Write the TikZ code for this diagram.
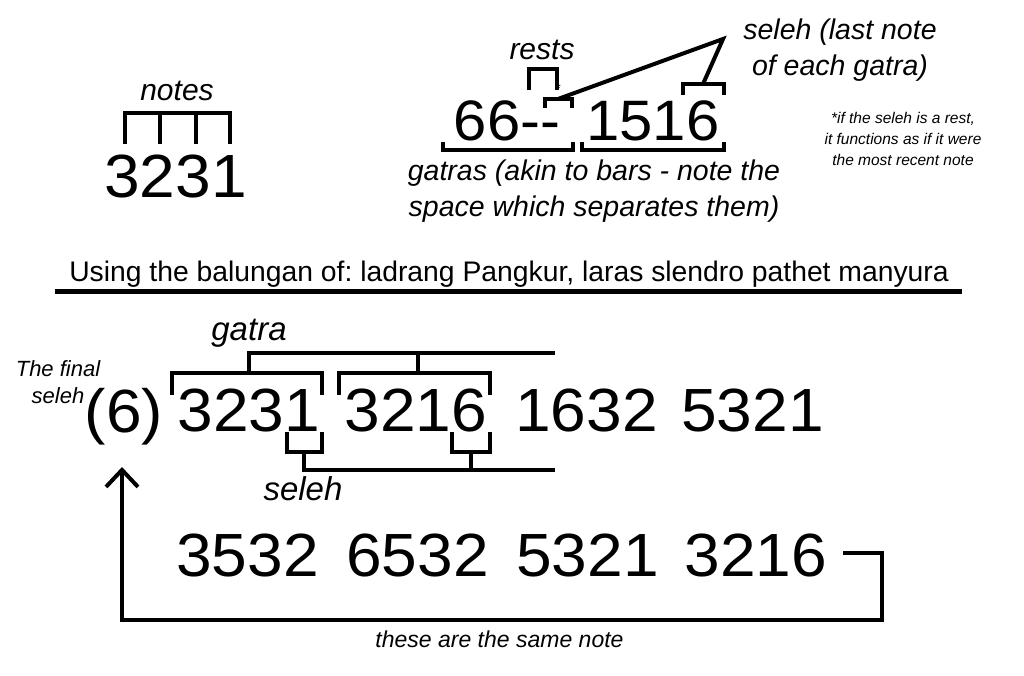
\documentclass[tikz,border=0pt]{standalone}
\usepackage{fontspec}
\setmainfont{Liberation Sans}
\newfontfamily\digitfont[FakeStretch=1.05]{Liberation Sans}
\usetikzlibrary{positioning}
\usetikzlibrary{arrows.meta}
\frenchspacing

\tikzset{
  brk/.style={line width=4pt, line join=miter},
  digits/.style={font=\digitfont\fontsize{61}{61}\selectfont, inner sep=0pt},
  tag/.style={font=\itshape\fontsize{28.5}{36}\selectfont, inner sep=0pt, align=center},
}

\begin{document}
\begin{tikzpicture}[x=1pt,y=-1pt]
            \useasboundingbox (0,0) rectangle (1024,676);

            % top left: notes
            \node[digits, font=\digitfont\fontsize{61}{61}\selectfont] (notesnum) at (175.5,176.5) {3231};
            \node[tag, font=\itshape\fontsize{30}{30}\selectfont, anchor=base] (notes) at (177,101) {notes};
            \draw[brk] (125,144) -- (125,113) -- (230,113) -- (230,144);
            \foreach \x in {160,196} \draw[brk] (\x,113) -- (\x,144);

            % top middle: gatras, rests and seleh
            \node[digits, font=\digitfont\fontsize{57}{57}\selectfont] (gatraA) at (507,120.5) {66-{}-};
            \node[digits, font=\digitfont\fontsize{57}{57}\selectfont] (gatraB) at (653,120.5) {1516};
            \node[tag, font=\itshape\fontsize{30}{30}\selectfont, anchor=base] (rests) at (542,60) {rests};
            \node[font=\fontsize{14}{14}\selectfont, inner sep=0pt] (star) at (558,89) {*};
            \node[tag] (selehtop) at (840,50) {seleh (last note\\of each gatra)};
            \node[tag] (gatras) at (594,191) {gatras (akin to bars - note the\\space which separates them)};
            \node[tag, font=\itshape\fontsize{15.5}{21}\selectfont] (footnote) at (903,138.5) {*if the seleh is a rest,\\it functions as if it were\\the most recent note};

            \coordinate (restseleh) at (558,99);
            \coordinate (apex) at (723,39);
            \coordinate (lastseleh) at (703,84);
            \draw[brk] (529,90) -- (529,69) -- (557,69) -- (557,90);
            \draw[brk] (545,108) -- (545,99) -- (572,99) -- (572,108);
            \draw[brk] (683,95) -- (683,84) -- (724,84) -- (724,95);
            \draw[brk] (restseleh) -- (apex) -- (lastseleh);
            \draw[brk] (443,142) -- (443,150) -- (573,150) -- (573,142);
            \draw[brk] (582,142) -- (582,150) -- (724,150) -- (724,142);

            % heading
            \node[font=\fontsize{28.3}{28.3}\selectfont, anchor=base, inner sep=0pt] (title) at (509,281) {Using the balungan of: ladrang Pangkur, laras slendro pathet manyura};
            \draw[line width=5pt] (55,291) -- (962,291);

            % ladrang Pangkur
            \node[tag, font=\itshape\fontsize{22}{27}\selectfont] (finlbl) at (58,382) {The final\\seleh};
            \node[digits, anchor=base] (final) at (124,432) {(6)};
            \node[digits] (g1) at (249,410) {3231};
            \node[digits] (g2) at (416,410) {3216};
            \node[digits] (g3) at (586.5,410) {1632};
            \node[digits] (g4) at (752.5,410) {5321};
            \node[digits] (h1) at (247.5,555) {3532};
            \node[digits] (h2) at (417.5,555) {6532};
            \node[digits] (h3) at (587.5,555) {5321};
            \node[digits] (h4) at (756,555) {3216};

            \node[tag, font=\itshape\fontsize{33}{33}\selectfont, anchor=base] (gatralbl) at (249,340) {gatra};
            \node[tag, font=\itshape\fontsize{33}{33}\selectfont, anchor=base] (selehlbl) at (303,500) {seleh};
            \node[tag, font=\itshape\fontsize{23}{23}\selectfont] (same) at (499.5,639) {these are the same note};

            \coordinate (gatra1) at (249,373);
            \coordinate (gatra2) at (418,373);
            \coordinate (seleh1) at (304,452);
            \coordinate (seleh2) at (471,452);
            \draw[brk] (172,395) -- (172,373) -- (322,373) -- (322,395);
            \draw[brk] (339,395) -- (339,373) -- (490,373) -- (490,395);
            \draw[brk] (gatra1) -- (249,353) -- (555,353);
            \draw[brk] (gatra2) -- (418,353);
            \draw[brk] (287,432) -- (287,452) -- (322,452) -- (322,432);
            \draw[brk] (452,432) -- (452,452) -- (490,452) -- (490,432);
            \draw[brk] (seleh1) -- (304,470) -- (555,470);
            \draw[brk] (seleh2) -- (471,470);

            \coordinate (loopstart) at (843,553);
            \coordinate (tip) at (122,467);
            \draw[brk, -{Straight Barb[length=17pt, width=32pt]}] (loopstart) -| (882,620) -| (tip);
        \end{tikzpicture}
\end{document}
